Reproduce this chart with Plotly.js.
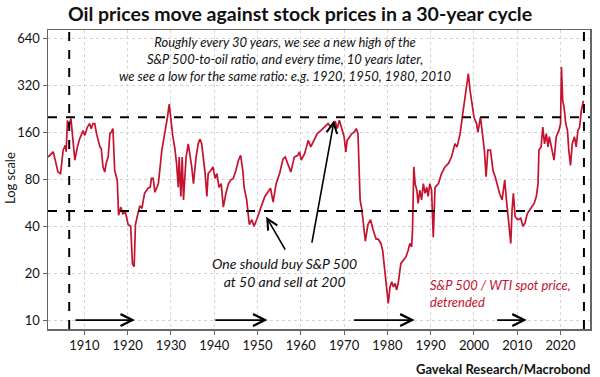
<!DOCTYPE html>
<html>
<head>
<meta charset="utf-8">
<script src="https://cdn.plot.ly/plotly-3.0.1.min.js"></script>
<style>html,body{margin:0;padding:0;background:#fff;}#chart{width:600px;height:377px;}</style>
</head>
<body>
<div id="chart"></div>
<script>
// ---- Data ----
const years = [
1901.6,1902.8,1903.2,1903.9,1904.5,1905.1,1905.6,1905.8,1906.1,1906.4,1906.9,1907.2,1907.8,1908.4,1908.9,1909.7,
1910.1,1910.7,1911.2,1911.6,1912.0,1912.4,1912.8,1913.6,1913.9,1914.3,1914.7,1915.1,1915.5,1915.9,1916.2,1916.6,
1917.0,1917.6,1917.9,1918.4,1918.9,1919.5,1920.1,1920.7,1921.1,1921.5,1921.8,1922.2,1922.8,1923.3,1923.9,1924.7,
1925.2,1925.5,1925.9,1926.3,1927.1,1927.9,1928.6,1929.2,1929.6,1930.0,1930.4,1930.9,1931.3,1931.7,1931.9,1932.3,
1932.6,1932.9,1933.2,1933.5,1934.0,1934.4,1934.8,1935.2,1935.8,1936.3,1936.7,1937.1,1937.5,1937.9,1938.3,1938.6,
1939.2,1939.7,1940.2,1940.6,1941.1,1941.6,1942.1,1942.7,1943.3,1943.8,1944.4,1945.0,1945.6,1946.1,1946.6,1946.9,
1947.5,1948.1,1948.7,1949.2,1949.8,1950.1,1950.9,1951.7,1952.4,1953.0,1953.6,1954.3,1955.1,1955.9,1956.4,1957.1,
1957.7,1958.5,1959.3,1959.7,1960.1,1960.9,1961.7,1962.3,1963.0,1963.8,1964.6,1965.4,1966.3,1966.9,1967.4,1968.0,
1968.4,1968.9,1969.4,1970.0,1970.4,1970.7,1971.3,1971.8,1972.3,1972.8,1973.2,1973.4,1973.7,1974.1,1974.6,1974.9,
1975.5,1976.1,1976.7,1977.4,1977.9,1978.5,1978.9,1979.4,1979.8,1980.2,1980.6,1981.0,1981.4,1981.8,1982.1,1982.5,
1983.1,1983.7,1984.3,1984.8,1985.2,1985.6,1985.8,1986.1,1986.4,1986.8,1987.1,1987.5,1987.9,1988.3,1988.7,1989.1,
1989.4,1989.8,1990.2,1990.6,1991.0,1991.8,1992.5,1993.3,1994.1,1994.8,1995.6,1996.1,1996.8,1997.4,1997.9,1998.3,
1998.7,1999.1,1999.5,2000.0,2000.6,2000.9,2001.5,2002.0,2002.4,2002.8,2003.2,2003.8,2004.4,2004.9,2005.5,2005.9,
2006.5,2007.1,2007.5,2008.0,2008.5,2008.8,2009.1,2009.5,2010.1,2010.8,2011.3,2011.8,2012.3,2012.9,2013.4,2013.9,
2014.4,2014.8,2015.0,2015.5,2015.9,2016.3,2016.7,2017.1,2017.4,2018.0,2018.5,2019.0,2019.6,2020.0,2020.2,2020.5,
2020.8,2021.2,2021.6,2021.9,2022.3,2022.7,2023.2,2023.6,2024.0,2024.4,2024.8,2025.3
];
const ratio = [
111,120,108,89,87,123,132,120,191,173,196,157,106,129,145,164,
153,173,182,169,182,182,157,129,126,96,89,103,111,157,160,169,
91,79,47,53,48,49,41,40,23,22,41,46,54,52,65,70,
71,81,81,66,75,123,157,200,243,191,153,126,101,71,111,62,
111,59,83,111,135,117,96,75,111,135,145,135,111,87,62,87,
91,96,81,87,71,75,53,65,75,79,81,91,106,114,91,71,
59,41,44,40,44,47,54,62,66,70,57,75,87,108,111,98,
89,111,114,120,106,117,142,129,142,157,164,173,182,173,182,186,
169,191,169,150,120,142,150,157,160,169,157,111,59,51,38,32,
41,44,38,33,33,31,28,21,16.3,12.8,16.3,17.6,16.3,17.2,15.6,17.2,
23,24.2,25.5,28,31,29.5,38,96,75,68,56,68,59,75,65,71,
62,75,68,34,71,75,87,96,101,111,135,129,157,210,270,328,
380,297,243,200,182,160,200,157,123,83,123,123,91,83,71,65,
59,79,59,42,31,51,65,46,44,45,40,42,48,51,53,56,
62,75,123,129,173,135,157,129,150,123,106,150,164,182,420,255,
233,182,164,123,98,135,150,129,164,173,222,255
];
const yearTicks = [1910,1920,1930,1940,1950,1960,1970,1980,1990,2000,2010,2020];
const logTicks = [10,20,40,80,160,320,640];
const levelLines = [50, 200];              // buy at 50, sell at 200
const cycleYears = [1906.5, 2025.4];       // vertical dashed markers
const cycleArrows = [[1907.6,1921.7],[1939.9,1952.3],[1971.9,1986.3],[2005.0,2012.2]];
const arrowLevel = 10;
const pointerArrows = [
  {from:[1956.6,27.7], to:[1952.0,45.9]},
  {from:[1962.5,30.7], to:[1967.7,191]}
];

const RED = '#c4122f';
const FONT = 'Lato, "Open Sans", sans-serif';

const trace = {
  x: years, y: ratio, type: 'scatter', mode: 'lines',
  line: {color: RED, width: 1.7}, hoverinfo: 'skip', showlegend: false
};

const shapes = [];
levelLines.forEach(v => shapes.push({type:'line', xref:'paper', x0:0, x1:1, yref:'y', y0:v, y1:v,
  line:{color:'#000', width:2, dash:'dash'}}));
cycleYears.forEach(v => shapes.push({type:'line', xref:'x', x0:v, x1:v, yref:'paper', y0:0, y1:1,
  line:{color:'#000', width:2, dash:'dash'}}));

const annotations = [];
cycleArrows.forEach(([a,b]) => annotations.push({
  x:b, y:Math.log10(arrowLevel), xref:'x', yref:'y', ax:a, ay:Math.log10(arrowLevel), axref:'x', ayref:'y',
  text:'', showarrow:true, arrowhead:5, arrowsize:1.3, arrowwidth:1.8, arrowcolor:'#000', standoff:0
}));
pointerArrows.forEach(p => annotations.push({
  x:p.to[0], y:Math.log10(p.to[1]), xref:'x', yref:'y', ax:p.from[0], ay:Math.log10(p.from[1]), axref:'x', ayref:'y',
  text:'', showarrow:true, arrowhead:5, arrowsize:1.3, arrowwidth:1.6, arrowcolor:'#000', standoff:0
}));
annotations.push(
  {xref:'paper', yref:'paper', x:0.437, y:0.902, xanchor:'center', yanchor:'middle', showarrow:false,
   text:'<i>Roughly every 30 years, we see a new high of the<br>S&amp;P 500-to-oil ratio, and every time, 10 years later,<br>we see a low for the same ratio: e.g. 1920, 1950, 1980, 2010</i>',
   font:{family:FONT, size:13, color:'#111'}, align:'center'},
  {xref:'paper', yref:'paper', x:0.437, y:0.189, xanchor:'center', yanchor:'middle', showarrow:false,
   text:'<i>One should buy S&amp;P 500<br>at 50 and sell at 200</i>',
   font:{family:FONT, size:14, color:'#111'}, align:'center'},
  {xref:'paper', yref:'paper', x:0.701, y:0.119, xanchor:'left', yanchor:'middle', showarrow:false,
   text:'<i>S&amp;P 500 / WTI spot price,<br>detrended</i>',
   font:{family:FONT, size:13, color:RED}, align:'left'},
  {xref:'paper', yref:'paper', x:1.0055, y:-0.134, xanchor:'right', yanchor:'middle', showarrow:false,
   text:'<b>Gavekal Research/Macrobond</b>',
   font:{family:FONT, size:13, color:'#111'}},
  {xref:'paper', yref:'paper', x:-0.070, y:0.505, xanchor:'center', yanchor:'middle', showarrow:false,
   text:'Log scale', textangle:-90,
   font:{family:FONT, size:13, color:'#111'}}
);

const layout = {
  width:600, height:377,
  margin:{l:48, r:10, t:30, b:48},
  paper_bgcolor:'#fff', plot_bgcolor:'#fff',
  title:{text:'<b>Oil prices move against stock prices in a 30-year cycle</b>',
    font:{family:FONT, size:19.5, color:'#111'}, x:0.5, xanchor:'center', y:0.962, yanchor:'middle', yref:'container'},
  xaxis:{range:[1901.6, 2026.8], tickvals:yearTicks, ticktext:yearTicks.map(String),
    showline:true, linecolor:'#666', linewidth:1.5, mirror:true,
    ticks:'outside', ticklen:4, tickcolor:'#666',
    showgrid:true, gridcolor:'#d4d4d4', griddash:'dot', gridwidth:1, zeroline:false,
    tickfont:{family:FONT, size:13, color:'#111'}},
  yaxis:{type:'log', range:[Math.log10(8.76), Math.log10(725)], tickvals:logTicks, ticktext:logTicks.map(String),
    showline:true, linecolor:'#666', linewidth:1.5, mirror:true,
    ticks:'outside', ticklen:4, tickcolor:'#666',
    showgrid:true, gridcolor:'#d4d4d4', griddash:'dot', gridwidth:1, zeroline:false,
    tickfont:{family:FONT, size:13, color:'#111'}},
  shapes:shapes, annotations:annotations
};

Plotly.newPlot('chart', [trace], layout, {displayModeBar:false, staticPlot:true});
</script>
</body>
</html>
